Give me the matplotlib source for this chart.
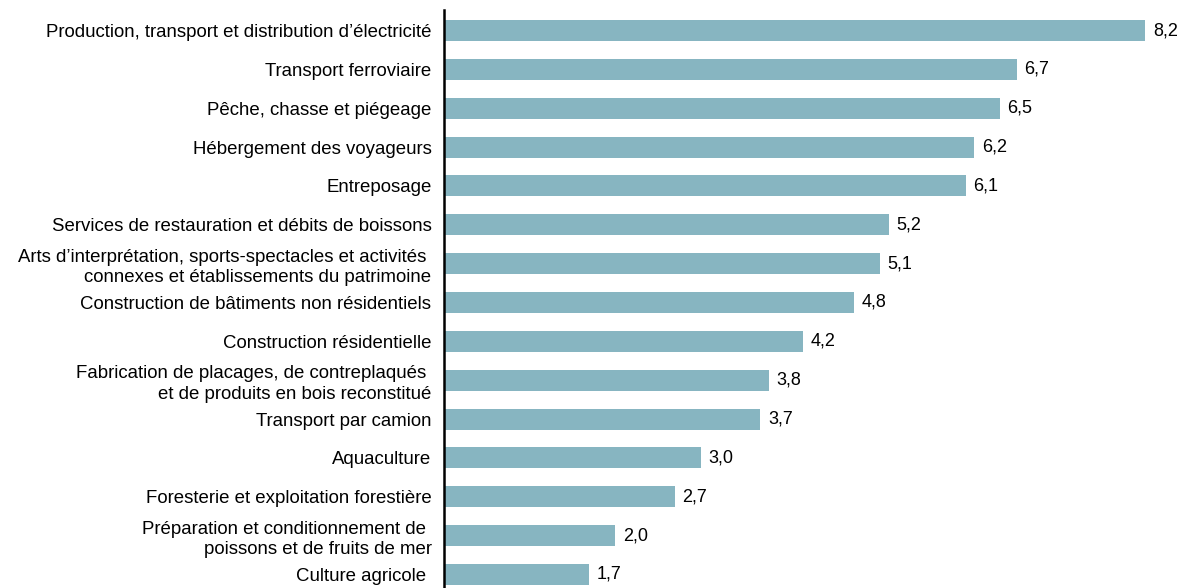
import matplotlib
matplotlib.use("Agg")
import matplotlib.pyplot as plt

categories = [
    "Production, transport et distribution d\u2019électricité",
    "Transport ferroviaire",
    "Pêche, chasse et piégeage",
    "Hébergement des voyageurs",
    "Entreposage",
    "Services de restauration et débits de boissons",
    "Arts d\u2019interprétation, sports-spectacles et activités \nconnexes et établissements du patrimoine",
    "Construction de bâtiments non résidentiels",
    "Construction résidentielle",
    "Fabrication de placages, de contreplaqués \net de produits en bois reconstitué",
    "Transport par camion",
    "Aquaculture",
    "Foresterie et exploitation forestière",
    "Préparation et conditionnement de \npoissons et de fruits de mer",
    "Culture agricole ",
]
values = [8.2, 6.7, 6.5, 6.2, 6.1, 5.2, 5.1, 4.8, 4.2, 3.8, 3.7, 3.0, 2.7, 2.0, 1.7]
value_labels = ["8,2", "6,7", "6,5", "6,2", "6,1", "5,2", "5,1", "4,8", "4,2", "3,8", "3,7", "3,0", "2,7", "2,0", "1,7"]

plt.rcParams["font.family"] = ["Liberation Sans", "DejaVu Sans"]
W, H = 1183, 588
fig = plt.figure(figsize=(W / 100, H / 100), dpi=100)
left = 444 / W
ax = fig.add_axes([left, 0.0, 1 - left, (588 - 10) / H])

pos = list(range(len(categories)))
ax.barh(pos, values, height=0.54, color="#87B5C1", edgecolor="none")
ax.set_ylim(14.35, -0.53)
ax.set_xlim(0, (W - 444) / 85.5)

for p, v, t in zip(pos, values, value_labels):
    ax.text(v + 0.09, p, t, va="center", ha="left", fontsize=13, color="#000000")

ax.set_yticks(pos)
ax.set_yticklabels(categories, fontsize=13.4, linespacing=1.28)
ax.tick_params(axis="y", length=0, pad=9)
ax.set_xticks([])
for s in ["top", "right", "bottom"]:
    ax.spines[s].set_visible(False)
ax.spines["left"].set_linewidth(1.8)
ax.spines["left"].set_color("#000000")

fig.savefig("out.png", dpi=100)
